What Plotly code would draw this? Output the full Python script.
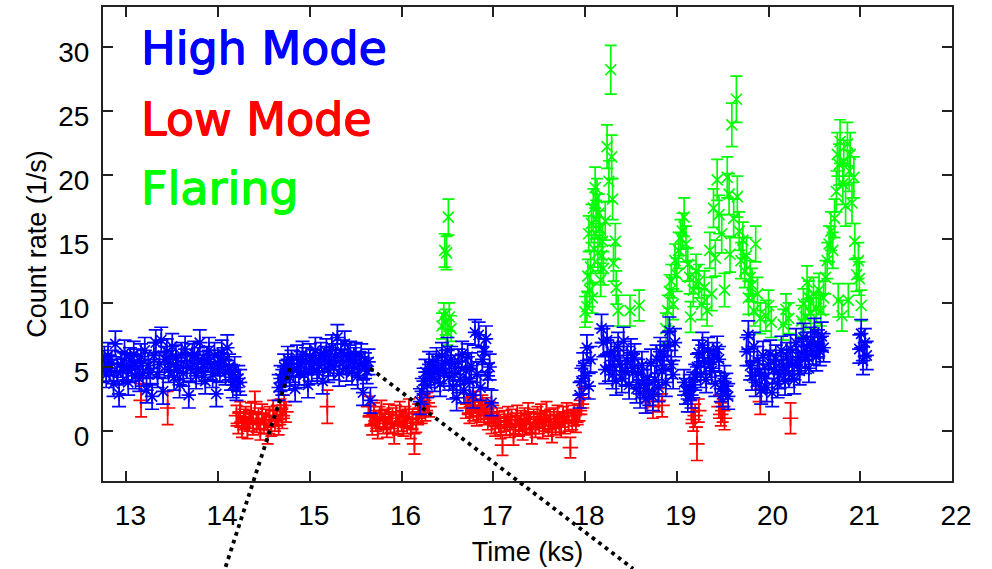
import plotly.graph_objects as go

# ---------------- data ----------------
BIN_KS = 0.02  # light-curve bin width (ks)

# High mode (blue) : contiguous runs of bins, start time of each run
high_seg_start = [12.74, 14.66, 16.20, 17.94, 18.18, 19.08, 19.76, 20.99]
high_seg_err = [1.0, 1.0, 1.0, 1.0, 1.1, 1.0, 1.1, 1.1]
high_seg_rate = [
    [4.8, 5.6, 4.4, 5.9, 4.9, 5.3, 3.7, 6.8, 4.6, 2.9,
     5.2, 4.7, 6.1, 5.0, 3.8, 5.5, 4.9, 6.0, 4.3, 5.4,
     4.1, 5.8, 4.5, 6.3, 3.2, 5.1, 4.6, 2.7, 5.9, 6.9,
     4.4, 5.2, 7.1, 3.1, 5.6, 6.2, 4.8, 5.3, 6.6, 4.2,
     5.7, 5.0, 3.6, 5.9, 4.5, 6.4, 5.1, 2.8, 4.9, 5.8,
     6.0, 4.3, 5.5, 6.9, 4.7, 5.2, 3.9, 5.6, 6.3, 5.0,
     4.4, 5.9, 2.9, 5.3, 4.8, 6.1, 5.5, 4.6, 6.5, 5.0,
     4.2, 3.6, 4.8, 3.4, 4.1, 3.8],
    [3.4, 4.1, 3.8, 5.0, 4.5, 5.6, 4.2, 5.3, 4.8, 3.3,
     5.7, 4.6, 5.2, 6.0, 4.4, 5.5, 3.6, 5.8, 4.9, 5.4,
     6.3, 4.7, 5.1, 5.9, 3.9, 5.6, 6.2, 4.8, 5.3, 6.5,
     5.0, 5.8, 7.3, 4.5, 6.1, 5.4, 6.8, 4.9, 5.7, 6.0,
     4.6, 5.5, 5.9, 4.3, 5.2, 5.8, 3.0, 5.1, 4.7, 5.4, 2.4],
    [2.3, 3.1, 3.9, 4.6, 3.6, 5.2, 4.4, 5.0, 4.1, 5.5,
     4.8, 3.7, 5.9, 4.5, 5.3, 6.3, 4.2, 5.6, 3.5, 4.9,
     2.6, 5.4, 4.0, 6.0, 3.2, 4.7, 5.8, 3.9, 5.1, 2.8,
     7.7, 4.4, 7.5, 3.4, 5.6, 6.2, 7.2, 4.3, 5.0, 2.2],
    [2.8, 3.9, 5.1, 4.3, 6.5, 3.5, 5.6],
    [8.0, 6.9, 4.8, 7.1, 5.0, 6.2, 4.4, 5.8, 3.9, 6.6,
     5.2, 4.1, 7.0, 4.6, 5.5, 3.6, 6.1, 4.9, 5.7, 3.3,
     4.5, 2.9, 5.1, 3.7, 2.5, 4.2, 3.1, 5.3, 2.7, 4.0,
     5.6, 3.4, 6.2, 4.7, 5.9, 3.8, 6.6, 7.8, 5.2, 4.4, 6.9],
    [3.8, 3.1, 2.5, 3.4, 2.8, 3.6, 4.2, 5.0, 6.1, 4.4,
     6.7, 5.5, 4.0, 6.3, 5.2, 4.7, 5.9, 3.7, 6.4, 5.6,
     3.3, 2.9, 4.1, 3.5, 2.7],
    [6.2, 7.5, 5.1, 4.3, 6.6, 3.8, 5.5, 4.6, 3.2, 5.9,
     4.1, 3.4, 5.2, 6.0, 3.0, 4.8, 5.6, 3.7, 4.4, 6.3,
     5.0, 3.9, 5.8, 4.5, 6.4, 5.2, 4.0, 6.9, 5.5, 4.7,
     6.1, 7.3, 5.6, 6.6, 4.9, 7.0, 6.3, 7.7, 5.8, 6.8, 6.2, 7.4, 6.5],
    [6.4, 7.6, 5.5, 6.9, 5.9],
]

# Low mode (red)
low_seg_start = [14.20, 15.64, 16.70]
low_seg_err = [0.8, 0.8, 0.8]
low_seg_rate = [
    [1.2, 0.6, 1.5, 0.3, 0.9, 1.1, 0.2, 0.8, 1.4, 0.5,
     2.3, 0.7, 1.0, 0.1, 1.3, 0.6, 0.9, -0.2, 1.1, 0.4,
     1.6, 0.8, 1.2, 0.5, 1.7, 1.0, 2.0, 1.5],
    [1.9, 1.2, 0.5, 1.4, 0.8, 0.2, 1.1, 1.6, 0.6, 0.9,
     0.3, 1.3, 0.7, 1.0, -0.2, 1.2, 0.5, 1.5, 0.8, 0.4,
     1.1, 0.6, 1.7, 0.2, 0.9, -1.0, 0.7, 1.3, 1.8, 1.4,
     2.0, 1.6, 2.2, 1.9],
    [1.8, 2.1, 1.4, 1.9, 1.6, 2.3, 1.2, 1.7, 1.5, 2.0,
     1.3, 1.8, 0.9, 1.5, 0.6, 1.2, 0.4, 1.0, 0.7, 0.2,
     -1.1, 0.8, 0.5, 1.1, 0.3, 0.9, -0.3, 0.6, 1.2, 0.4,
     0.8, 0.1, 1.0, 0.5, 1.4, 0.7, -0.2, 0.9, 0.3, 1.1,
     0.6, 1.3, 0.2, 0.8, 1.5, 0.4, 0.9, -0.1, 1.0, 0.5,
     1.2, 0.7, 0.3, 1.1, 0.6, 1.4, 0.8, -1.3, 0.9, 1.2,
     0.7, 1.3, 1.6, 2.1, 2.6],
]
low_single_time = [13.16, 13.45, 15.19, 18.68, 18.74, 18.80, 18.84,
                   19.16, 19.18, 19.20, 19.22, 19.24,
                   19.46, 19.48, 19.50, 19.52, 19.91, 20.24]
low_single_rate = [2.4, 1.8, 1.9, 2.3, 1.9, 2.4, 2.0,
                   1.5, 0.9, 1.2, -1.0, 1.6,
                   1.9, 1.3, 1.6, 1.0, 2.3, 1.0]
low_single_err = [1.3, 1.3, 1.3, 0.9, 0.9, 0.9, 0.9,
                  0.9, 0.9, 0.9, 1.3, 0.9,
                  0.9, 0.9, 0.9, 0.9, 1.0, 1.2]

# Flaring (green)
flare_time = [
    16.44, 16.46, 16.48, 16.50, 16.52, 16.54, 16.47, 16.49, 16.51,
    18.00, 18.02, 18.03, 18.04, 18.05, 18.06, 18.07, 18.08, 18.09, 18.10,
    18.11, 18.12, 18.13, 18.14, 18.15, 18.16, 18.17, 18.18, 18.19, 18.20,
    18.22, 18.24, 18.26, 18.28, 18.29, 18.30, 18.31, 18.33, 18.34, 18.36,
    18.49, 18.59,
    18.88, 18.90, 18.92, 18.94, 18.96, 18.98, 19.00, 19.02, 19.04, 19.06,
    19.08, 19.10, 19.12, 19.14, 19.15, 19.18, 19.21, 19.24, 19.27, 19.30,
    19.33, 19.36, 19.38, 19.40, 19.42, 19.44, 19.46, 19.49, 19.52, 19.55,
    19.57, 19.58, 19.60, 19.62, 19.65, 19.66, 19.68, 19.70, 19.72, 19.74,
    19.76, 19.78, 19.80, 19.82, 19.84, 19.86, 19.88, 19.91,
    19.97, 20.00, 20.03, 20.16, 20.19, 20.22,
    20.36, 20.38, 20.40, 20.42, 20.44, 20.46, 20.49, 20.52, 20.55, 20.57,
    20.60, 20.62, 20.64, 20.66, 20.68, 20.70, 20.72, 20.74, 20.75, 20.76,
    20.77, 20.78, 20.80, 20.81, 20.82, 20.84, 20.86, 20.87, 20.88, 20.89,
    20.91, 20.93, 20.94, 20.96, 20.98, 20.99, 21.01,
]
flare_rate = [
    8.2, 9.0, 8.5, 7.7, 8.9, 8.0, 14.1, 13.9, 16.7,
    9.3, 9.7, 12.1, 15.4, 11.0, 12.8, 16.2, 10.4, 17.4, 14.2,
    19.0, 16.5, 18.2, 13.9, 17.0, 15.8, 11.8, 13.7, 14.8, 12.7,
    16.4, 22.2, 19.5, 28.2, 21.4, 18.1, 13.1, 14.8, 11.2, 9.4,
    9.4, 9.8,
    8.0, 9.4, 10.9, 11.7, 9.9, 13.3, 12.2, 14.1, 15.1, 15.6,
    16.7, 14.6, 13.0, 12.0, 8.9, 11.0, 12.5, 11.7, 9.9, 11.2,
    9.4, 14.1, 10.7, 17.4, 13.5, 19.6, 16.9, 15.4, 11.0, 19.8,
    18.5, 13.8, 23.9, 16.6, 25.9, 18.3, 15.6, 13.3, 14.9, 12.5,
    13.7, 10.4, 12.0, 11.4, 9.4, 14.6, 10.7, 8.8,
    9.0, 9.8, 8.5, 8.3, 9.5, 8.8,
    8.6, 9.9, 8.9, 11.6, 10.4, 9.2, 10.7, 9.6, 11.0, 9.4,
    10.4, 12.0, 13.3, 14.6, 15.6, 14.1, 16.6, 18.7, 21.6, 10.2,
    20.8, 22.6, 9.0, 19.3, 21.0, 17.6, 22.4, 10.2, 20.3, 21.6,
    17.8, 19.8, 14.8, 12.2, 13.3, 11.9, 9.8,
]
flare_err = [
    1.0, 1.0, 1.0, 1.0, 1.1, 1.0, 1.3, 1.3, 1.4,
    1.2, 1.2, 1.3, 1.4, 1.3, 1.3, 1.5, 1.2, 1.5, 1.4,
    1.6, 1.5, 1.5, 1.4, 1.5, 1.4, 1.3, 1.4, 1.4, 1.3,
    1.5, 1.7, 1.6, 1.9, 1.7, 1.6, 1.4, 1.4, 1.3, 1.2,
    1.2, 1.2,
    1.2, 1.2, 1.3, 1.3, 1.2, 1.3, 1.3, 1.4, 1.4, 1.4,
    1.5, 1.4, 1.3, 1.3, 1.2, 1.3, 1.3, 1.3, 1.2, 1.3,
    1.2, 1.4, 1.3, 1.5, 1.4, 1.6, 1.5, 1.5, 1.3, 1.6,
    1.6, 1.4, 1.7, 1.5, 1.8, 1.6, 1.5, 1.4, 1.4, 1.3,
    1.4, 1.3, 1.3, 1.3, 1.2, 1.4, 1.3, 1.2,
    1.2, 1.2, 1.2, 1.2, 1.2, 1.2,
    1.2, 1.2, 1.2, 1.3, 1.3, 1.2, 1.3, 1.2, 1.3, 1.2,
    1.3, 1.3, 1.4, 1.4, 1.5, 1.4, 1.5, 1.6, 1.7, 1.3,
    1.6, 1.7, 1.2, 1.6, 1.7, 1.6, 1.7, 1.3, 1.6, 1.7,
    1.6, 1.6, 1.4, 1.3, 1.4, 1.3, 1.2,
]

legend_labels = ["High Mode", "Low Mode", "Flaring"]
x_ticks = [13, 14, 15, 16, 17, 18, 19, 20, 21, 22]
y_ticks = [0, 5, 10, 15, 20, 25, 30]
zoom_from = [(14.785, 4.9), (15.658, 4.9)]  # data points where the zoom lines start

# ---------------- assemble ----------------
def expand(starts, rates, errs):
    t, r, e = [], [], []
    for s, vals, er in zip(starts, rates, errs):
        for i, v in enumerate(vals):
            t.append(round(s + i * BIN_KS, 3))
            r.append(v)
            e.append(er)
    return t, r, e

ht, hr, he = expand(high_seg_start, high_seg_rate, high_seg_err)
lt, lr, le = expand(low_seg_start, low_seg_rate, low_seg_err)
lt += low_single_time
lr += low_single_rate
le += low_single_err

BLUE, RED, GREEN = "#0000ff", "#ff0000", "#00ff00"
X_RANGE = [12.745, 22.0]
Y_RANGE = [-3.9, 33.1]

fig = go.Figure()

def add(t, r, e, color, symbol, size, capw, name):
    fig.add_trace(go.Scatter(
        x=t, y=r, mode="markers", name=name,
        marker=dict(symbol=symbol, size=size, color=color,
                    line=dict(color=color, width=1.7)),
        error_y=dict(type="data", array=e, visible=True, color=color,
                     thickness=1.7, width=capw),
        showlegend=False, hoverinfo="skip"))

add(flare_time, flare_rate, flare_err, GREEN, "x-thin-open", 11, 6, legend_labels[2])
add(lt, lr, le, RED, "cross-thin-open", 11, 6, legend_labels[1])
add(ht, hr, he, BLUE, "asterisk-open", 12, 7, legend_labels[0])

# labels inside the plot (medium weight: regular face thickened by a same-colour halo)
label_y = [0.913, 0.764, 0.618]
for txt, col, yy in zip(legend_labels, [BLUE, RED, GREEN], label_y):
    halo = ", ".join(f"{dx}px {dy}px 0 {col}" for dx, dy in
                     [(0.8, 0), (-0.4, 0), (0, 0.5), (0, -0.5)])
    fig.add_annotation(text=txt, x=0.0436, y=yy, xref="paper", yref="paper",
                       xanchor="left", yanchor="middle", showarrow=False,
                       borderpad=0,
                       font=dict(family="DejaVu Sans", size=46, color=col,
                                 shadow=halo))

# dotted zoom lines (start at data points, leave through the bottom)
def xp(t):
    return (t - X_RANGE[0]) / (X_RANGE[1] - X_RANGE[0])

def yp(v):
    return (v - Y_RANGE[0]) / (Y_RANGE[1] - Y_RANGE[0])

line_end = [(0.1437, -0.185), (0.6243, -0.185)]
for (t0, v0), (xe, ye) in zip(zoom_from, line_end):
    fig.add_shape(type="line", xref="paper", yref="paper",
                  x0=xp(t0), y0=yp(v0), x1=xe, y1=ye,
                  line=dict(color="black", width=3.8, dash="3.8px,4.4px"))

axis_common = dict(showline=True, linecolor="#222222", linewidth=2, mirror="ticks",
                   ticks="inside", ticklen=10, tickwidth=1.5, tickcolor="#222222",
                   showgrid=False, zeroline=False,
                   tickfont=dict(family="Liberation Sans", size=28, color="black"))

fig.update_xaxes(range=X_RANGE, tickmode="array", tickvals=x_ticks,
                 ticktext=[str(v) for v in x_ticks],
                 title=dict(text="Time (ks)", standoff=13,
                            font=dict(family="Liberation Sans", size=27, color="black")),
                 ticklabelshift=4, ticklabelstandoff=8, **axis_common)
fig.update_yaxes(range=Y_RANGE, tickmode="array", tickvals=y_ticks,
                 ticktext=[str(v) for v in y_ticks],
                 title=dict(text="Count rate (1/s)", standoff=4,
                            font=dict(family="Liberation Sans", size=27, color="black")),
                 ticklabelshift=5, ticklabelstandoff=6, **axis_common)

fig.update_layout(width=992, height=569, margin=dict(l=103, r=40, t=5, b=88),
                  paper_bgcolor="white", plot_bgcolor="white")

fig.write_html("out.html")
